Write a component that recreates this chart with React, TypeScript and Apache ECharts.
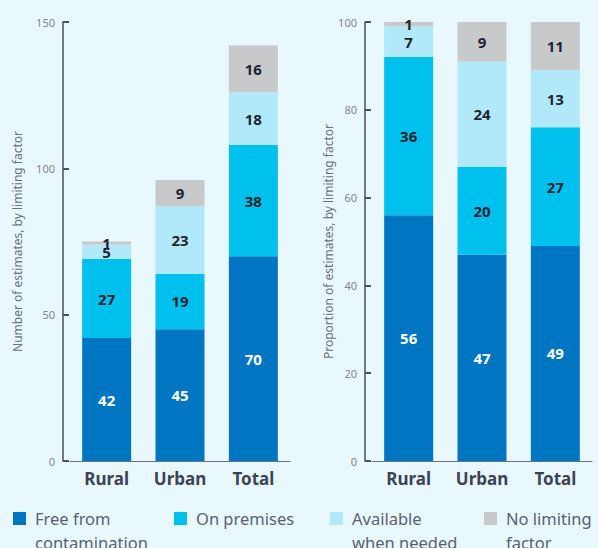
import React, { useEffect, useRef } from "react";
import * as echarts from "echarts";

const categories = ["Rural", "Urban", "Total"];
const seriesNames = ["Free from contamination", "On premises", "Available when needed", "No limiting factor"];
const legendLabels = ["Free from\ncontamination", "On premises", "Available\nwhen needed", "No limiting\nfactor"];
const colors = ["#0075C2", "#00C0EE", "#B2E9FA", "#C8C9CB"];

// Number of estimates
const countFree = [42, 45, 70];
const countPremises = [27, 19, 38];
const countAvailable = [5, 23, 18];
const countNone = [1, 9, 16];

// Proportion of estimates (%)
const propFree = [56, 47, 49];
const propPremises = [36, 20, 27];
const propAvailable = [7, 24, 13];
const propNone = [1, 9, 11];

const countTicks = { min: 0, max: 150, interval: 50 };
const propTicks = { min: 0, max: 100, interval: 20 };

const FONT = "Noto Sans";

export default function App() {
  const ref = useRef<HTMLDivElement>(null);
  useEffect(() => {
    if (!ref.current) return;
    const chart = echarts.init(ref.current, undefined, { renderer: "svg" });
    const countData = [countFree, countPremises, countAvailable, countNone];
    const propData = [propFree, propPremises, propAvailable, propNone];

    const mkSeries = (data: number[][], idx: number) =>
      data.map((vals, i) => ({
        type: "bar",
        name: seriesNames[i],
        stack: "s" + idx,
        xAxisIndex: idx,
        yAxisIndex: idx,
        barWidth: 49,
        data: vals,
        itemStyle: { color: colors[i] },
        label: {
          show: true,
          position: "inside",
          color: i === 0 ? "#ffffff" : "#1f2430",
          fontFamily: FONT,
          fontWeight: "bold",
          fontSize: 15,
        },
      }));

    const yAxisBase = {
      type: "value",
      nameLocation: "middle",
      nameTextStyle: { color: "#6b7280", fontSize: 12, fontFamily: FONT },
      axisLine: { show: true, lineStyle: { color: "#4a5162", width: 1.5 } },
      axisTick: { show: true, inside: true, length: 6, lineStyle: { color: "#4a5162", width: 2 } },
      axisLabel: { color: "#80878f", fontSize: 11, fontFamily: FONT, margin: 8 },
      splitLine: { show: false },
      offset: 7,
    };
    const xAxisBase = {
      type: "category",
      data: categories,
      axisLine: { show: true, lineStyle: { color: "#6b7280", width: 1 } },
      axisTick: { show: false },
      axisLabel: { color: "#3d4354", fontSize: 17, fontWeight: "bold", fontFamily: FONT, margin: 9 },
    };

    const LH = 24;
    const legendLefts = [13, 174, 330, 484];
    const legends = seriesNames.map((n, i) => {
      const twoLine = legendLabels[i].includes("\n");
      return {
        data: [n],
        left: legendLefts[i],
        top: twoLine ? 512 - (1.5 * LH - 6.5) : 512 - (0.5 * LH - 6.5),
        padding: 0,
        icon: "rect",
        itemWidth: 13,
        itemHeight: 13,
        formatter: () => (twoLine ? "\n" + legendLabels[i] : legendLabels[i]),
        selectedMode: false,
        textStyle: {
          color: "#5a6272",
          fontSize: 16.5,
          fontFamily: FONT,
          lineHeight: LH,
          padding: [0, 0, 0, 4],
        },
      };
    });

    chart.setOption({
      animation: false,
      backgroundColor: "#E9F8FD",
      grid: [
        { left: 70, width: 220, top: 22, bottom: 87 },
        { left: 372, width: 220, top: 22, bottom: 87 },
      ],
      xAxis: [
        { ...xAxisBase, gridIndex: 0 },
        { ...xAxisBase, gridIndex: 1 },
      ],
      yAxis: [
        { ...yAxisBase, gridIndex: 0, ...countTicks, name: "Number of estimates, by limiting factor", nameGap: 40 },
        { ...yAxisBase, gridIndex: 1, ...propTicks, name: "Proportion of estimates, by limiting factor", nameGap: 30 },
      ],
      legend: legends,
      series: [...mkSeries(countData, 0), ...mkSeries(propData, 1)],
    });
    return () => chart.dispose();
  }, []);
  return (
    <div
      ref={ref}
      style={{ position: "absolute", left: 0, top: 0, width: 598, height: 548 }}
    />
  );
}
